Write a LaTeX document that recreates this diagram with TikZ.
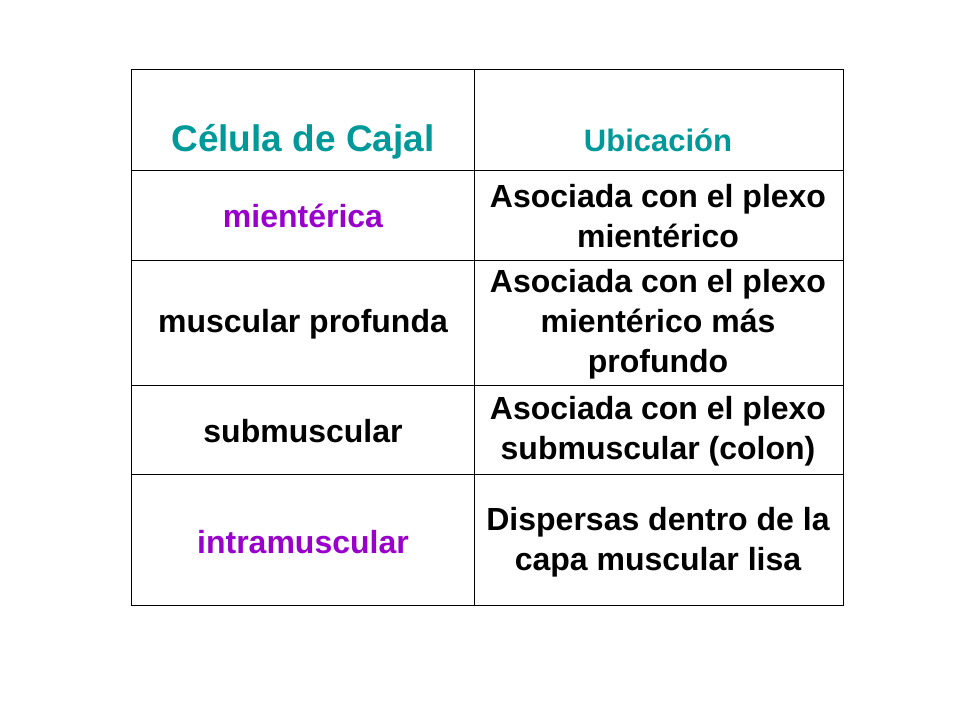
\documentclass[tikz,border=0pt]{standalone}
\usepackage{fontspec}
\setmainfont{Liberation Sans}
\definecolor{teal1}{HTML}{009999}
\definecolor{purp}{HTML}{9900CC}
\begin{document}
\begin{tikzpicture}[x=1pt,y=-1pt,
 cell/.style={font=\fontsize{32}{40}\selectfont\bfseries,align=center,anchor=center,inner sep=0}]
\useasboundingbox (0,0) rectangle (960,720);
\draw[line width=1pt] (131,69) rectangle (843,605);
\draw[line width=1pt] (474,69) -- (474,605);
\foreach \y in {170,260,385,474} \draw[line width=1pt] (131,\y) -- (843,\y);
\node[cell,text=teal1,font=\fontsize{37}{40}\selectfont\bfseries] (h1) at (303,142) {Célula de Cajal};
\node[cell,text=teal1,font=\fontsize{31}{36}\selectfont\bfseries] (h2) at (658,140) {Ubicación};
\node[cell,text=purp] (a1) at (303,216) {mientérica};
\node[cell,text=black] (a2) at (658,216) {Asociada con el plexo\\mientérico};
\node[cell] (b1) at (303,324) {muscular profunda};
\node[cell] (b2) at (658,324) {Asociada con el plexo\\mientérico más\\profundo};
\node[cell] (c1) at (303,431) {submuscular};
\node[cell] (c2) at (658,431) {Asociada con el plexo\\submuscular (colon)};
\node[cell,text=purp] (d1) at (303,542) {intramuscular};
\node[cell] (d2) at (658,542) {Dispersas dentro de la\\capa muscular lisa};
\end{tikzpicture}
\end{document}
